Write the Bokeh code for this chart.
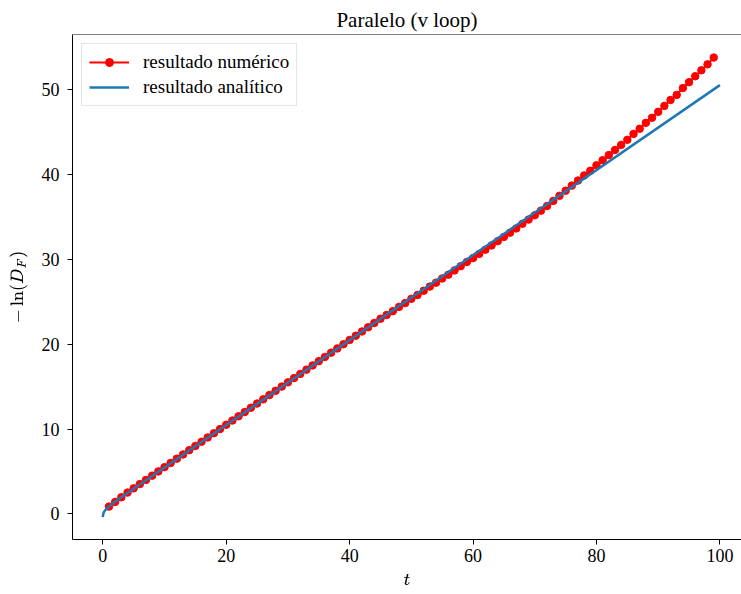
from bokeh.plotting import figure
from bokeh.models import Range1d, FixedTicker, Span
from bokeh.embed import file_html
from bokeh.resources import INLINE

# ---- data ----
t_num = [1, 2, 3, 4, 5, 6, 7, 8, 9, 10,
         11, 12, 13, 14, 15, 16, 17, 18, 19, 20,
         21, 22, 23, 24, 25, 26, 27, 28, 29, 30,
         31, 32, 33, 34, 35, 36, 37, 38, 39, 40,
         41, 42, 43, 44, 45, 46, 47, 48, 49, 50,
         51, 52, 53, 54, 55, 56, 57, 58, 59, 60,
         61, 62, 63, 64, 65, 66, 67, 68, 69, 70,
         71, 72, 73, 74, 75, 76, 77, 78, 79, 80,
         81, 82, 83, 84, 85, 86, 87, 88, 89, 90,
         91, 92, 93, 94, 95, 96, 97, 98, 99]
y_num = [0.85, 1.40, 1.95, 2.50, 3.00, 3.50, 4.00, 4.50, 5.00, 5.50,
         6.00, 6.50, 7.00, 7.50, 8.00, 8.50, 9.00, 9.50, 10.00, 10.50,
         11.00, 11.50, 12.00, 12.50, 13.00, 13.50, 14.00, 14.50, 15.00, 15.50,
         16.00, 16.50, 17.00, 17.50, 18.00, 18.50, 19.00, 19.50, 20.00, 20.50,
         21.00, 21.50, 22.00, 22.50, 23.00, 23.45, 23.90, 24.40, 24.85, 25.35,
         25.80, 26.30, 26.80, 27.25, 27.75, 28.20, 28.70, 29.20, 29.70, 30.15,
         30.65, 31.15, 31.65, 32.15, 32.65, 33.15, 33.65, 34.20, 34.70, 35.20,
         35.75, 36.30, 36.90, 37.50, 38.10, 38.70, 39.30, 39.90, 40.45, 41.10,
         41.70, 42.30, 42.90, 43.50, 44.10, 44.80, 45.40, 46.10, 46.70, 47.40,
         48.10, 48.80, 49.40, 50.20, 50.90, 51.60, 52.30, 53.00, 53.80]

t_ana = [0, 0.05, 0.15, 0.3, 0.5, 0.75, 1, 1.5, 2, 3, 100]
y_ana = [-0.40, -0.10, 0.15, 0.35, 0.50, 0.68, 0.85, 1.15, 1.42, 1.95, 50.55]

x_ticks = [0, 20, 40, 60, 80, 100]
y_ticks = [0, 10, 20, 30, 40, 50]

title_text = "Paralelo (v loop)"
label_num = "resultado numérico"
label_ana = "resultado analítico"

FONT = "Liberation Serif"
Y_TOP = 56.52

p = figure(width=741, height=594, output_backend="svg", toolbar_location=None,
           x_range=Range1d(-4.91, 103.5), y_range=Range1d(-3.03, Y_TOP),
           min_border_left=72, min_border_right=0, min_border_top=34,
           min_border_bottom=55, title=title_text)

p.background_fill_color = "white"
p.border_fill_color = "white"
p.outline_line_color = None
p.xgrid.visible = False
p.ygrid.visible = False

p.title.text_font = FONT
p.title.text_font_size = "21px"
p.title.text_font_style = "normal"
p.title.align = "center"
p.title.text_color = "black"
p.title.standoff = 6

# top spine
p.add_layout(Span(location=Y_TOP, dimension="width", line_color="black", line_width=1))

p.line(t_num, y_num, line_color="red", line_width=2, legend_label=label_num)
p.scatter(t_num, y_num, size=7.5, fill_color="red", line_color="red", legend_label=label_num)
p.line(t_ana, y_ana, line_color="#1f77b4", line_width=2.5, legend_label=label_ana)

p.xaxis.ticker = FixedTicker(ticks=x_ticks)
p.yaxis.ticker = FixedTicker(ticks=y_ticks)
for ax in (p.xaxis, p.yaxis):
    ax.minor_tick_line_color = None
    ax.major_tick_in = 0
    ax.major_tick_out = 5
    ax.axis_line_color = "black"
    ax.major_tick_line_color = "black"
    ax.major_label_text_font = FONT
    ax.major_label_text_font_size = "18px"
    ax.major_label_text_color = "black"
    ax.axis_label_text_font_size = "15px"
    ax.axis_label_text_color = "black"
p.xaxis.major_label_standoff = 4
p.yaxis.major_label_standoff = 8
p.xaxis.axis_label = r"$$t$$"
p.yaxis.axis_label = r"$$-\ln(D_F)$$"
p.xaxis.axis_label_standoff = 9
p.yaxis.axis_label_standoff = 11

lg = p.legend[0]
lg.location = "top_left"
lg.margin = 9
lg.padding = 7
lg.spacing = 3
lg.glyph_width = 40
lg.glyph_height = 20
lg.label_standoff = 14
lg.label_text_font = FONT
lg.label_text_font_size = "19px"
lg.label_text_color = "black"
lg.border_line_color = "#cccccc"
lg.border_line_width = 1
lg.background_fill_color = "white"
lg.background_fill_alpha = 0.8

open("out.html", "w").write(file_html(p, INLINE))
